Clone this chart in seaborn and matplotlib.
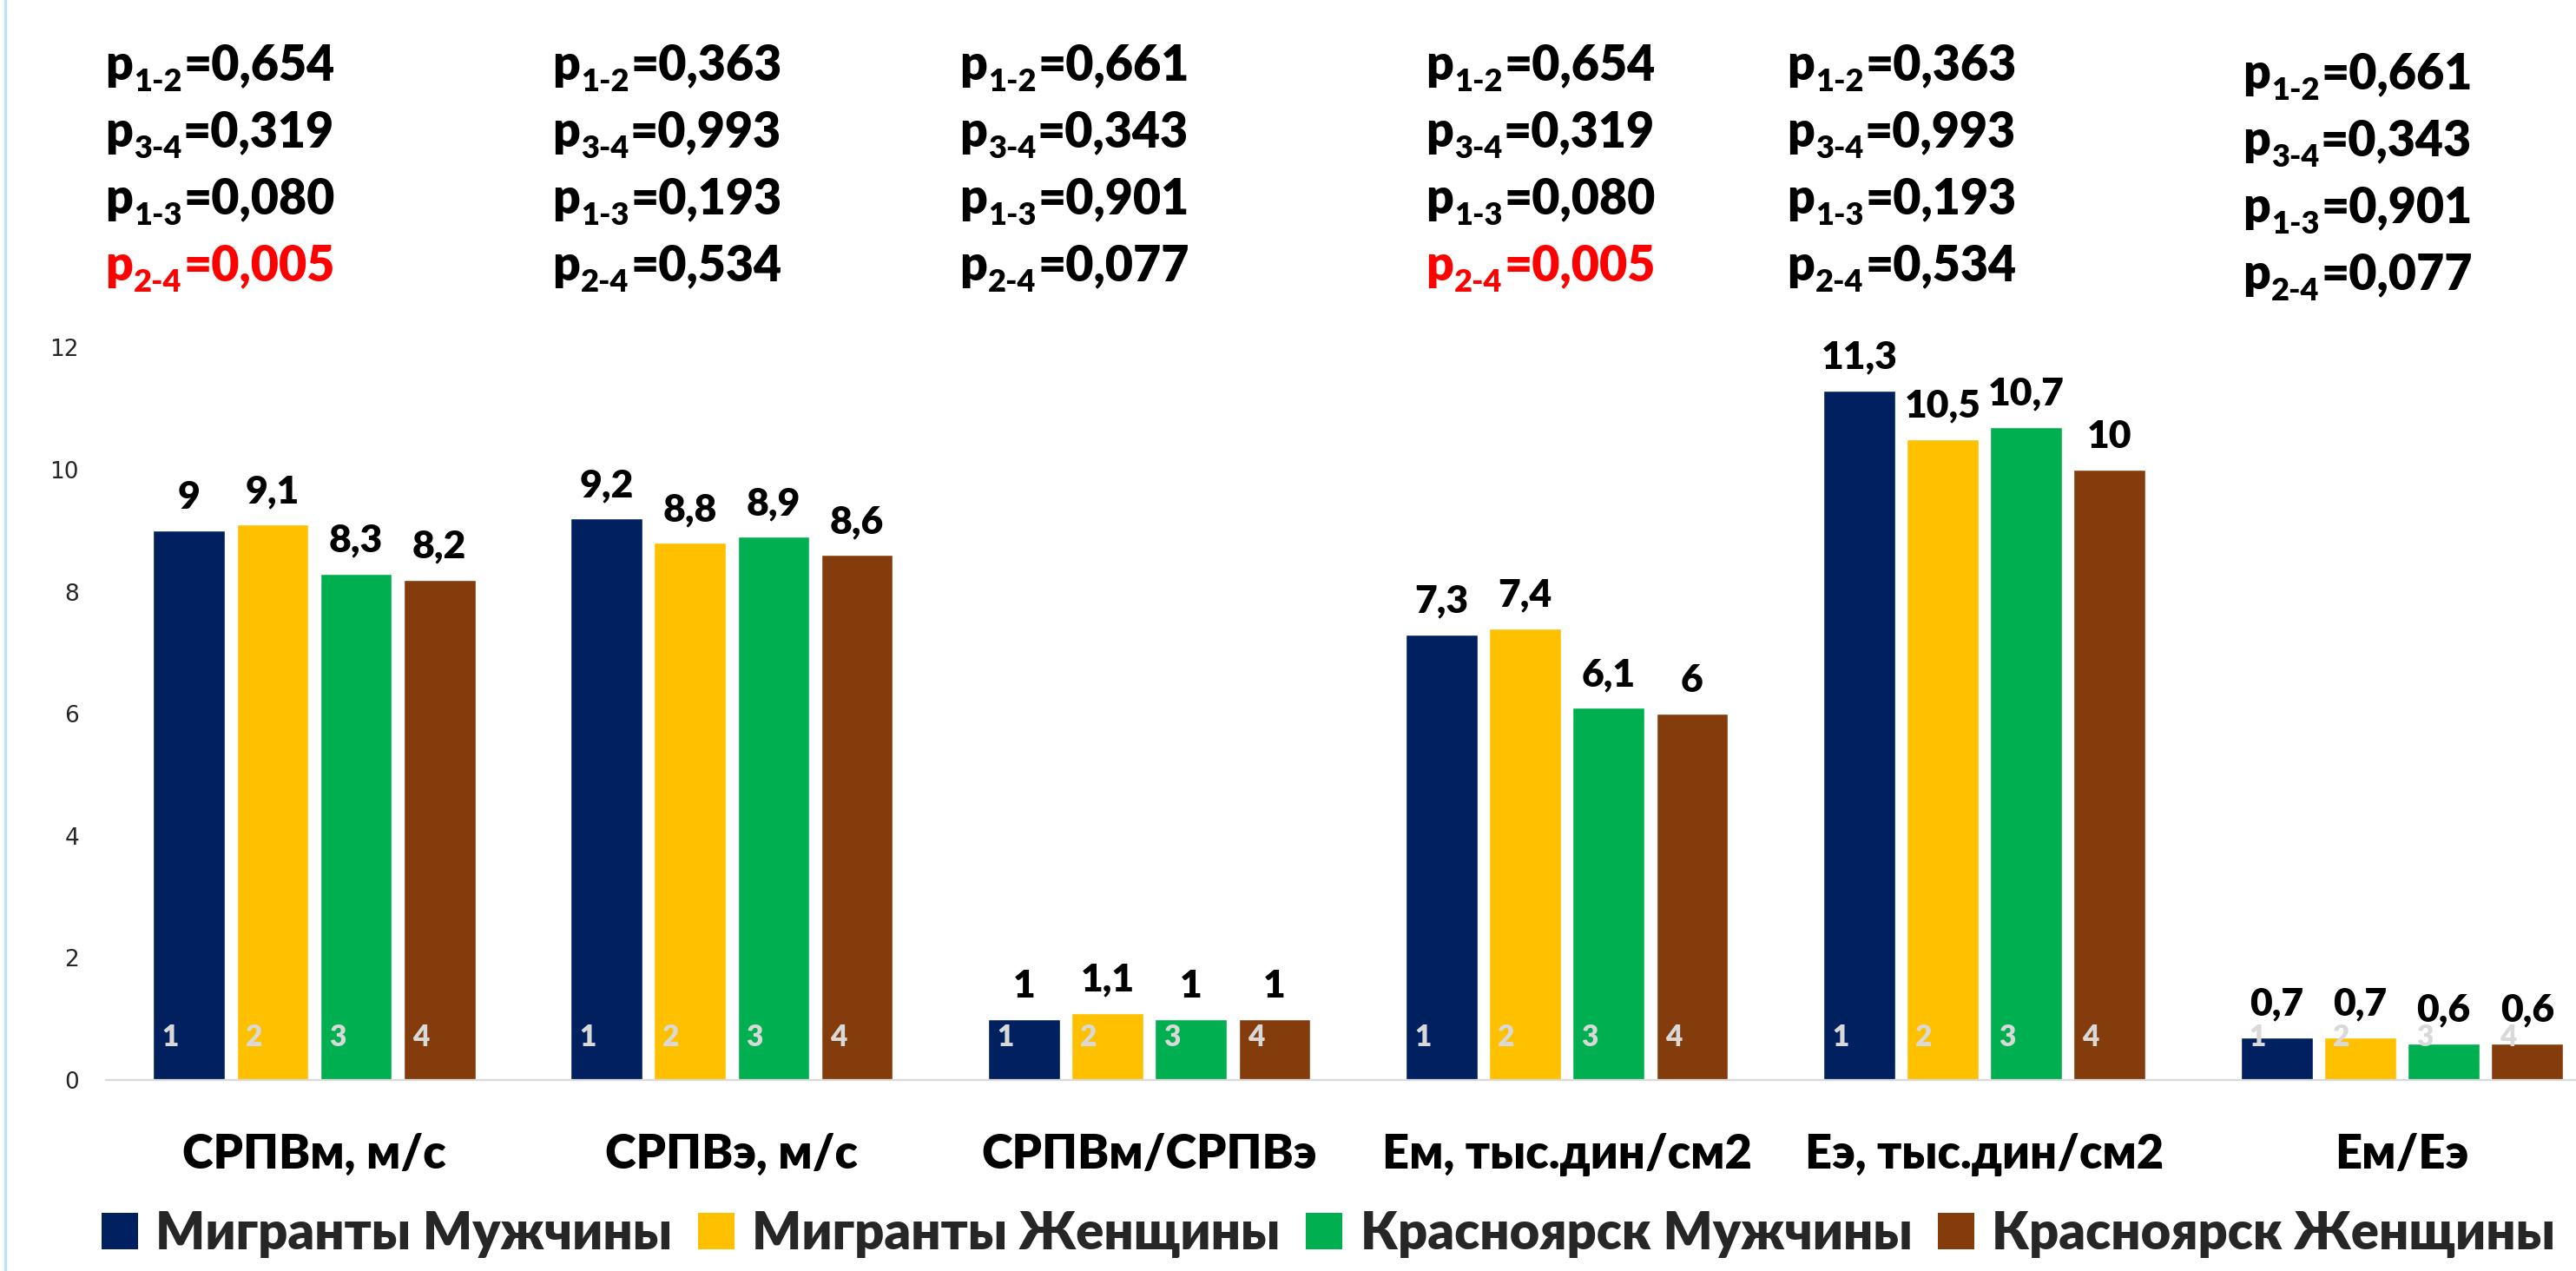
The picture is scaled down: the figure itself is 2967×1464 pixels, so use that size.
import matplotlib
matplotlib.use("Agg")
import matplotlib.pyplot as plt
import seaborn as sns
import pandas as pd
from matplotlib.patches import Patch
from matplotlib.lines import Line2D

OUTPUT_FILE = "out.png"

PARAMS = ["СРПВм, м/с", "СРПВэ, м/с", "СРПВм/СРПВэ",
          "Ем, тыс.дин/см2", "Еэ, тыс.дин/см2", "Ем/Еэ"]
GROUPS = ["Мигранты Мужчины", "Мигранты Женщины",
          "Красноярск Мужчины", "Красноярск Женщины"]
MIGR_M = [9, 9.2, 1, 7.3, 11.3, 0.7]
MIGR_F = [9.1, 8.8, 1.1, 7.4, 10.5, 0.7]
KRAS_M = [8.3, 8.9, 1, 6.1, 10.7, 0.6]
KRAS_F = [8.2, 8.6, 1, 6, 10, 0.6]
COLORS = ["#002060", "#FFC000", "#00B050", "#843C0C"]
Y_TICKS = [0, 2, 4, 6, 8, 10, 12]

P_LABELS = ["1-2", "3-4", "1-3", "2-4"]
P_VALUES = [
    ["0,654", "0,319", "0,080", "0,005"],
    ["0,363", "0,993", "0,193", "0,534"],
    ["0,661", "0,343", "0,901", "0,077"],
    ["0,654", "0,319", "0,080", "0,005"],
    ["0,363", "0,993", "0,193", "0,534"],
    ["0,661", "0,343", "0,901", "0,077"],
]

W, H = 2967, 1464
FONT = ["Lato", "DejaVu Sans"]
HEAVY = "heavy"


def build_frame():
    rows = []
    for group, values in zip(GROUPS, [MIGR_M, MIGR_F, KRAS_M, KRAS_F]):
        for param, v in zip(PARAMS, values):
            rows.append({"param": param, "group": group, "value": v})
    return pd.DataFrame(rows)


def fmt(v):
    return f"{v:g}".replace(".", ",")


sns.set_style("white")
plt.rcParams["font.family"] = FONT

df = build_frame()

fig = plt.figure(figsize=(W / 100, H / 100), dpi=100)
ax = fig.add_axes([121.5 / W, (H - 1244) / H, 1 - 121.5 / W, (1244 - 400.4) / H])

sns.barplot(data=df, x="param", y="value", hue="group", hue_order=GROUPS,
            palette=COLORS, saturation=1, width=0.8, gap=0.14,
            legend=False, ax=ax)

ax.set_xlim(-0.5, 5.417)
ax.set_ylim(0, 12)
ax.set_yticks(Y_TICKS)
ax.set_yticklabels([str(t) for t in Y_TICKS], fontsize=19, color="#262626",
                   family="DejaVu Sans")
ax.set_xticks(range(len(PARAMS)))
ax.set_xticklabels(PARAMS, fontsize=39, weight=HEAVY, color="black")
ax.tick_params(axis="x", length=0, pad=44)
ax.tick_params(axis="y", length=0, pad=22)
ax.set_xlabel("")
ax.set_ylabel("")
for side in ["left", "right", "top"]:
    ax.spines[side].set_visible(False)
ax.spines["bottom"].set_color("#D9D9D9")
ax.spines["bottom"].set_linewidth(1.6)

# value labels above the bars and group numbers inside them
for i, container in enumerate(ax.containers):
    ax.bar_label(container, labels=[fmt(v) for v in container.datavalues],
                 padding=13, fontsize=32, weight=HEAVY, color="black")
    for bar in container:
        ax.text(bar.get_x() + bar.get_width() / 2 - 0.045, 0.7, str(i + 1),
                ha="center", va="center", fontsize=24, weight=HEAVY,
                color="#D9D9D9")

# p-value blocks above the chart
P_X = [121, 636, 1105, 1642, 2058, 2583]
P_Y = [92, 92, 92, 92, 92, 102]
for bx, by, vals in zip(P_X, P_Y, P_VALUES):
    for k, (sub, val) in enumerate(zip(P_LABELS, vals)):
        color = "#FF0000" if float(val.replace(",", ".")) < 0.05 else "black"
        y = by + k * 77
        t_p = fig.text(bx / W, 1 - y / H, "p", fontsize=40, weight=HEAVY,
                       color=color, va="baseline")
        t_s = ax.annotate(sub, xy=(1, 0), xycoords=t_p, xytext=(1, -3),
                          textcoords="offset points", fontsize=26,
                          weight=HEAVY, color=color, va="baseline",
                          annotation_clip=False)
        ax.annotate("=" + val, xy=(1, 0), xycoords=(t_s, t_p), xytext=(1, 0),
                    textcoords="offset points", fontsize=40, weight=HEAVY,
                    color=color, va="bottom", annotation_clip=False)

handles = [Patch(facecolor=c, edgecolor="none") for c in COLORS]
fig.legend(handles, GROUPS, loc="upper left",
           bbox_to_anchor=(117 / W, 1 - 1394 / H), bbox_transform=fig.transFigure,
           ncol=4, frameon=False, prop={"size": 43, "weight": HEAVY},
           handlelength=0.7, handleheight=0.72, handletextpad=0.34,
           columnspacing=0.5, borderpad=0, borderaxespad=0)

# thin light-blue frame line on the left edge
fig.add_artist(Line2D([6 / W, 6 / W], [0, 1], color="#BDE3EC", lw=2.5,
                      transform=fig.transFigure))

fig.savefig(OUTPUT_FILE, dpi=100)
plt.close(fig)
print(f"Saved chart to {OUTPUT_FILE}")
